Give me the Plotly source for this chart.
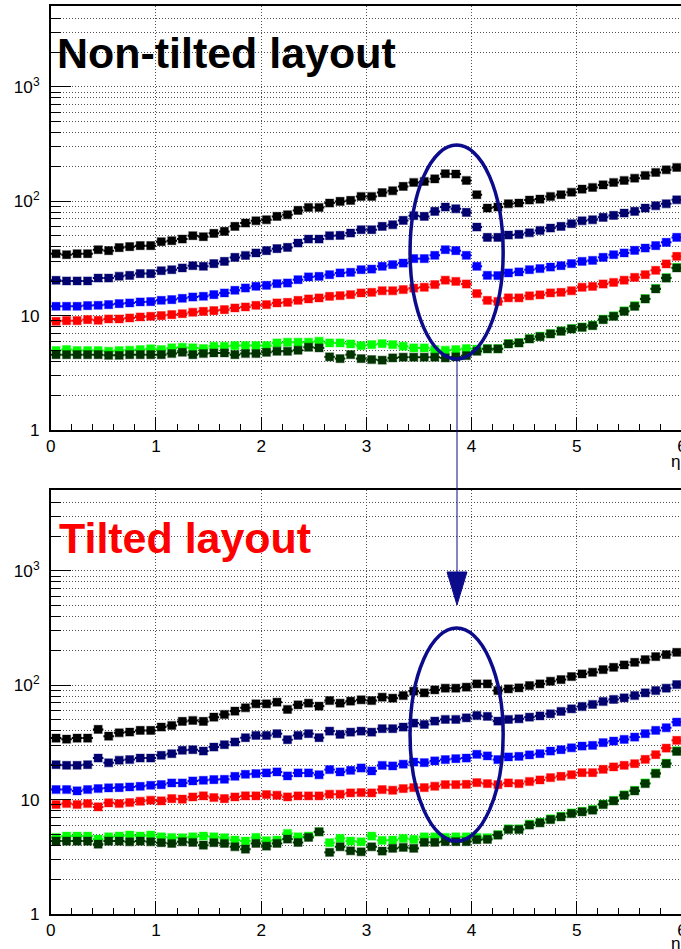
import plotly.graph_objects as go

# Bin centres in pseudorapidity (60 bins of width 0.1 between 0 and 6)
eta = [round(0.05 + 0.1 * i, 2) for i in range(60)]

# ---------------- Non-tilted layout ----------------
black_top = [34.8, 34.1, 34.8, 34.8, 37.7, 37.0, 39.3, 40.1, 40.9, 40.9,
             44.3, 45.2, 46.7, 50.0, 49.0, 52.4, 54.5, 60.3, 64.5, 67.5,
             68.9, 73.7, 76.2, 83.2, 88.3, 88.3, 96.4, 99.7, 101.7, 110.2,
             110.2, 119.0, 123.5, 134.8, 146.0, 149.0, 157.0, 174.0, 173.0, 152.0,
             114.0, 87.2, 89.0, 95.1, 96.4, 102.5, 104.4, 110.0, 114.0, 120.0,
             127.7, 132.0, 139.0, 146.0, 152.0, 159.0, 168.0, 178.6, 188.4, 197.5]
navy_top = [20.35, 20.1, 20.1, 20.1, 21.3, 21.3, 22.1, 22.5, 23.3, 23.3,
            24.7, 25.2, 26.1, 27.3, 27.0, 28.5, 29.8, 32.3, 33.6, 35.3,
            37.0, 38.5, 39.5, 43.1, 46.7, 46.7, 50.0, 50.3, 52.7, 56.4,
            56.4, 60.3, 62.3, 68.0, 74.7, 73.7, 81.5, 89.0, 86.0, 79.9,
            59.5, 48.3, 48.3, 50.6, 51.3, 53.0, 55.5, 58.3, 60.3, 63.6,
            67.5, 68.9, 72.3, 75.2, 78.8, 81.5, 87.2, 91.3, 95.1, 103.0]
blue_top = [12.06, 12.06, 12.06, 12.23, 12.31, 12.48, 12.73, 12.9, 13.16, 13.25,
            13.61, 13.8, 14.17, 14.55, 14.75, 15.26, 15.78, 16.64, 17.44, 18.04,
            18.4, 19.03, 19.28, 20.6, 21.8, 22.05, 22.8, 23.6, 23.9, 25.2,
            25.5, 27.0, 27.9, 28.8, 31.5, 31.5, 33.7, 37.7, 37.0, 33.7,
            27.0, 22.5, 22.4, 23.6, 24.1, 25.2, 25.8, 26.6, 27.3, 28.5,
            29.8, 30.4, 32.3, 34.1, 35.3, 37.2, 39.0, 40.9, 43.7, 48.3]
red_top = [8.92, 9.04, 9.04, 9.23, 9.1, 9.35, 9.35, 9.54, 9.73, 9.87,
           10.0, 10.2, 10.4, 10.7, 10.9, 11.06, 11.28, 11.67, 11.9, 12.31,
           12.48, 12.9, 13.07, 13.61, 13.98, 14.27, 14.75, 14.95, 15.26, 15.78,
           15.99, 16.5, 16.5, 16.9, 17.4, 17.7, 18.7, 20.4, 19.9, 18.9,
           15.6, 13.6, 13.3, 14.3, 14.3, 14.9, 15.2, 15.8, 16.0, 16.5,
           17.7, 18.0, 18.9, 19.5, 20.4, 21.6, 22.8, 24.9, 28.3, 33.0]
green_top = [4.95, 5.05, 4.95, 4.95, 4.95, 4.88, 4.95, 4.98, 5.05, 5.12,
             5.05, 5.22, 5.29, 5.22, 5.15, 5.40, 5.40, 5.47, 5.47, 5.47,
             5.47, 5.77, 5.85, 5.85, 5.85, 5.97, 5.77, 5.77, 5.65, 5.47,
             5.58, 5.69, 5.58, 5.40, 5.22, 5.22, 5.05, 4.98, 5.05, 5.15,
             5.10, 5.15, 5.15, 5.70, 5.80, 6.30, 6.60, 6.95, 7.35, 7.70,
             7.95, 8.25, 9.30, 9.95, 11.0, 12.2, 14.1, 17.3, 21.5, 26.4]
dkgreen_top = [4.56, 4.56, 4.56, 4.56, 4.56, 4.50, 4.50, 4.56, 4.56, 4.56,
               4.56, 4.66, 4.78, 4.56, 4.66, 4.72, 4.72, 4.56, 4.66, 4.66,
               4.78, 4.88, 4.88, 4.98, 5.29, 5.22, 4.36, 4.21, 4.56, 4.21,
               4.13, 4.08, 4.27, 4.33, 4.33, 4.33, 4.33, 4.27, 4.36, 4.47,
               4.88, 5.12, 5.12, 5.65, 5.77, 6.25, 6.55, 6.92, 7.30, 7.65,
               7.91, 8.18, 9.23, 9.87, 10.9, 12.06, 13.98, 17.1, 21.3, 26.1]

# ---------------- Tilted layout ----------------
black_bot = [34.5, 33.8, 34.5, 34.5, 41.1, 35.9, 38.4, 39.0, 40.3, 40.3,
             43.1, 44.5, 48.3, 49.2, 48.3, 52.6, 55.5, 59.4, 63.5, 68.8,
             68.8, 71.1, 61.4, 67.4, 69.7, 65.7, 73.5, 69.7, 72.6, 74.6,
             73.5, 78.6, 77.1, 81.3, 88.7, 85.8, 91.1, 94.2, 94.2, 96.2,
             102.8, 102.8, 89.9, 93.0, 94.9, 99.4, 102.8, 108.4, 112.1, 119.1,
             125.6, 129.9, 137.1, 143.6, 150.5, 158.8, 167.5, 177.9, 185.2, 194.1]
navy_bot = [20.2, 19.95, 19.95, 20.2, 23.1, 21.0, 22.1, 22.4, 23.1, 23.1,
            24.4, 25.2, 27.0, 27.3, 26.6, 28.8, 30.2, 31.9, 34.8, 36.4,
            36.4, 37.7, 33.4, 36.4, 37.7, 34.8, 39.7, 37.2, 38.9, 39.7,
            38.9, 41.7, 41.7, 43.1, 46.7, 45.4, 48.6, 50.2, 50.2, 51.9,
            54.4, 53.4, 48.6, 50.2, 50.9, 52.6, 53.9, 56.3, 59.0, 62.2,
            65.2, 67.9, 72.1, 75.1, 77.6, 81.3, 85.8, 89.9, 94.2, 101.4]
blue_bot = [12.24, 12.24, 11.92, 12.24, 12.49, 12.66, 12.74, 12.91, 13.08, 13.35,
            13.53, 13.99, 13.99, 14.57, 14.76, 14.96, 15.06, 16.0, 16.65, 16.87,
            17.1, 17.45, 16.1, 17.1, 17.1, 16.5, 18.3, 17.45, 18.05, 18.9,
            17.8, 19.9, 19.7, 20.4, 21.3, 21.05, 21.8, 22.4, 22.8, 23.1,
            24.9, 24.1, 22.4, 23.6, 23.9, 24.6, 25.2, 26.6, 27.3, 28.4,
            29.4, 29.8, 31.5, 32.5, 33.6, 35.2, 37.7, 40.3, 42.5, 47.6]
red_bot = [9.06, 9.24, 9.06, 9.24, 8.64, 9.37, 9.24, 9.43, 9.68, 9.88,
           9.75, 10.2, 10.1, 10.56, 10.78, 10.42, 10.2, 10.56, 10.78, 10.78,
           11.07, 10.92, 10.56, 10.78, 10.78, 10.78, 11.14, 11.14, 11.45, 11.53,
           11.45, 12.24, 12.08, 12.49, 12.74, 12.74, 13.09, 13.53, 13.53, 13.62,
           14.08, 13.81, 13.53, 13.99, 13.81, 14.4, 14.85, 15.57, 16.0, 16.5,
           17.2, 17.2, 18.4, 19.3, 19.95, 20.6, 22.5, 24.7, 28.2, 33.0]
green_bot = [4.67, 4.80, 4.80, 4.80, 4.52, 4.73, 4.80, 4.89, 4.80, 4.89,
             4.73, 4.67, 4.64, 4.73, 4.80, 4.73, 4.64, 4.43, 4.34, 4.67,
             4.37, 4.43, 5.06, 4.73, 4.80, 5.23, 4.20, 4.58, 4.34, 4.28,
             4.80, 4.40, 4.43, 4.58, 4.49, 4.73, 4.73, 4.67, 4.73, 4.73,
             4.67, 4.64, 4.95, 5.55, 5.55, 6.10, 6.35, 6.80, 7.15, 7.65,
             7.90, 8.20, 9.15, 9.85, 11.0, 12.05, 14.0, 17.1, 20.85, 26.7]
dkgreen_bot = [4.34, 4.34, 4.34, 4.34, 4.08, 4.34, 4.34, 4.28, 4.34, 4.28,
               4.20, 4.14, 4.28, 4.22, 4.00, 4.20, 4.14, 3.87, 3.69, 4.14,
               3.92, 4.14, 4.52, 4.22, 4.67, 5.23, 3.46, 3.87, 3.57, 3.50,
               3.87, 3.55, 3.75, 3.82, 3.75, 4.23, 4.23, 4.29, 4.29, 4.29,
               4.46, 4.49, 4.89, 5.48, 5.48, 6.00, 6.27, 6.70, 7.07, 7.56,
               7.82, 8.08, 9.06, 9.75, 10.9, 11.92, 13.81, 16.9, 20.6, 26.4]

colors = ["#000000", "#00006e", "#0000ff", "#ff0000", "#00ff00", "#003300"]
halos = ["rgba(0,0,0,0.35)", "rgba(0,0,110,0.35)", "rgba(0,0,255,0.35)",
         "rgba(255,0,0,0.35)", "rgba(0,255,0,0.35)", "rgba(0,51,0,0.35)"]

top_series = [black_top, navy_top, blue_top, red_top, green_top, dkgreen_top]
bot_series = [black_bot, navy_bot, blue_bot, red_bot, green_bot, dkgreen_bot]

FONT = "Liberation Sans, Arial, Helvetica, sans-serif"
ELLIPSE_COLOR = "#0b0b8c"

# Canvas is laid out on a 681 x 949 design grid; K scales the drawn page.
K = 1.0105
W, H = 681, 949

fig = go.Figure()

for series, xa, ya in [(top_series, "x", "y"), (bot_series, "x2", "y2")]:
    for vals, c, h in zip(series, colors, halos):
        fig.add_trace(go.Scatter(
            x=eta, y=vals, xaxis=xa, yaxis=ya, mode="markers",
            marker=dict(symbol="square", size=8 * K, color=c,
                        line=dict(width=1.2, color=h)),
            error_x=dict(type="constant", value=0.05, thickness=2,
                         width=0, color=c),
            showlegend=False, hoverinfo="skip"))

major_y = [1, 10, 100, 1000]
major_y_text = ["1", "10", "10<sup>2</sup>", "10<sup>3</sup>"]
minor_y = [m * d for d in (1, 10, 100, 1000) for m in range(2, 10)]
minor_y = [v for v in minor_y if v <= 5000]

x_domain = [46 / W, 680 / W]
top_domain = [1 - 430 / H, 1 - 6 / H]
bot_domain = [1 - 914 / H, 1 - 490 / H]
Y_RANGE = [0, 3.707]

grid = dict(gridcolor="#505050", griddash="1px,2px", gridwidth=1)
tickfont = dict(family=FONT, size=17 * K, color="black")


def xaxis_cfg(anchor):
    return dict(range=[0, 6], domain=x_domain, anchor=anchor,
                tickmode="linear", tick0=0, dtick=1, ticks="inside",
                ticklen=13 * K, tickwidth=1, tickcolor="black",
                ticklabeloverflow="allow",
                showline=True, linecolor="black", linewidth=1.5, mirror=True,
                showgrid=True, **grid, zeroline=False, tickfont=tickfont,
                minor=dict(dtick=0.2, ticks="inside", ticklen=6 * K,
                           tickcolor="black", tickwidth=1, showgrid=False))


def yaxis_cfg(anchor, dom):
    return dict(type="log", range=Y_RANGE, domain=dom, anchor=anchor,
                tickmode="array", tickvals=major_y, ticktext=major_y_text,
                ticks="inside", ticklen=20 * K, tickwidth=1, tickcolor="black",
                ticklabelstandoff=6,
                showline=True, linecolor="black", linewidth=1.5, mirror=True,
                showgrid=True, **grid, zeroline=False, tickfont=tickfont,
                minor=dict(tickmode="array", tickvals=minor_y, ticks="inside",
                           ticklen=10 * K, tickcolor="black", tickwidth=1,
                           showgrid=True, **grid))


fig.update_layout(
    width=round(W * K), height=round(H * K), autosize=False,
    margin=dict(l=0, r=0, t=0, b=0),
    paper_bgcolor="white", plot_bgcolor="white",
    xaxis=xaxis_cfg("y"), yaxis=yaxis_cfg("x", top_domain),
    xaxis2=xaxis_cfg("y2"), yaxis2=yaxis_cfg("x2", bot_domain),
)

# Panel titles
fig.add_annotation(text="<b>Non-tilted layout</b>", xref="paper", yref="paper",
                   x=50 / W, y=1 - 53 / H, xanchor="left", yanchor="middle",
                   showarrow=False,
                   font=dict(family=FONT, size=42.5 * K, color="black"))
fig.add_annotation(text="<b>Tilted layout</b>", xref="paper", yref="paper",
                   x=52 / W, y=1 - 538 / H, xanchor="left", yanchor="middle",
                   showarrow=False,
                   font=dict(family=FONT, size=42.5 * K, color="#ff0000"))

# Axis titles
for ypix in (461, 943):
    fig.add_annotation(text="η", xref="paper", yref="paper",
                       x=1.0, y=1 - ypix / H, xanchor="right",
                       yanchor="middle", showarrow=False,
                       font=dict(family=FONT, size=17 * K, color="black"))

# Highlighted region around the eta ~ 3.9 transition
ELL_X = [3.415, 4.30]
for xr, yr, yd in [("x", "y domain", [0.1675, 0.672]),
                   ("x2", "y2 domain", [0.172, 0.6745])]:
    fig.add_shape(type="circle", xref=xr, yref=yr,
                  x0=ELL_X[0], x1=ELL_X[1], y0=yd[0], y1=yd[1],
                  line=dict(color=ELLIPSE_COLOR, width=3.5))

# Arrow linking the two highlighted regions
ax = 454 / W
fig.add_shape(type="line", xref="paper", yref="paper",
              x0=ax, x1=ax, y0=1 - 358 / H, y1=1 - 575 / H,
              line=dict(color=ELLIPSE_COLOR, width=1))
fig.add_shape(type="path", xref="paper", yref="paper",
              path=(f"M {ax - 10 / W} {1 - 572 / H} "
                    f"L {ax + 10 / W} {1 - 572 / H} "
                    f"L {ax} {1 - 605 / H} Z"),
              fillcolor=ELLIPSE_COLOR, line=dict(color=ELLIPSE_COLOR, width=1))

# Keep the page exactly the size of the figure (no body margin or scrollbars)
page_css = ("document.documentElement.style.margin='0';"
            "document.documentElement.style.overflow='hidden';"
            "document.body.style.margin='0';"
            "document.body.style.overflow='hidden';")

fig.write_html("out.html", config={"responsive": False}, post_script=page_css)
